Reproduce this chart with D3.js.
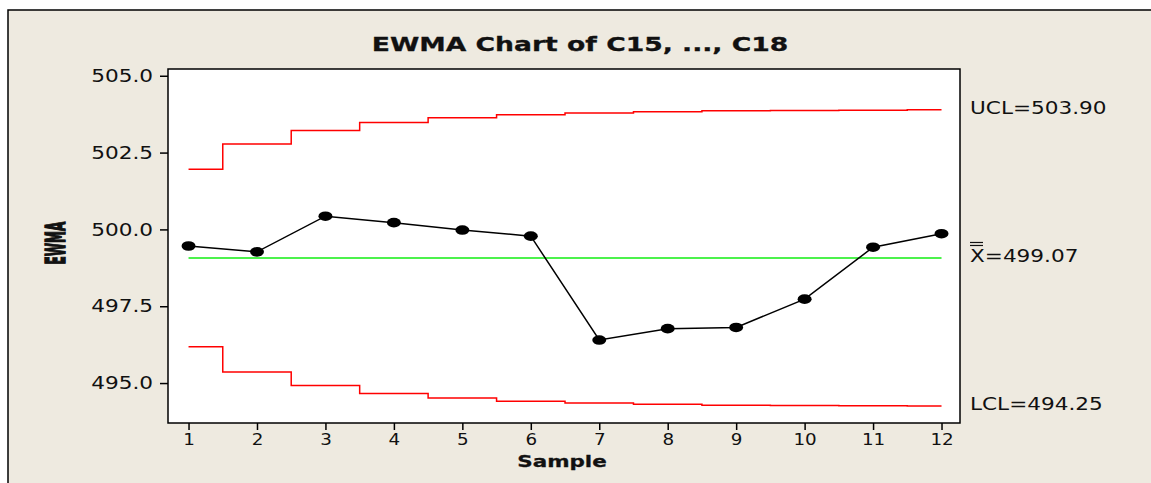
<!DOCTYPE html>
<meta charset="utf-8">
<script src="https://d3js.org/d3.v7.min.js"></script>
<style>
body { margin: 0; background: #fff; }
text { font-family: "DejaVu Sans", Verdana, sans-serif; fill: #111; }
</style>
<svg id="chart" width="1151" height="483"></svg>
<script>
// values
const samples = [1, 2, 3, 4, 5, 6, 7, 8, 9, 10, 11, 12]
const ewma = [499.46, 499.27, 500.43, 500.22, 499.98, 499.78, 496.40, 496.77, 496.81, 497.73, 499.42, 499.86]
const ucl = [501.96, 502.78, 503.22, 503.48, 503.63, 503.73, 503.79, 503.83, 503.86, 503.87, 503.88, 503.89]
const lcl = [496.18, 495.36, 494.92, 494.66, 494.51, 494.41, 494.35, 494.31, 494.28, 494.27, 494.26, 494.25]
const center = 499.07
const yTicks = [495, 497.5, 500, 502.5, 505]
const limitLabels = ["UCL=503.90", "X=499.07", "LCL=494.25"]

const svg = d3.select("#chart")
const pLeft = 168, pRight = 960, pTop = 69, pBottom = 423

// the original picture is widened a little, so text gets stretched to match
function stretch(sel, k) {
  sel.each(function() {
    const w = this.getComputedTextLength()
    d3.select(this).attr("textLength", w * k).attr("lengthAdjust", "spacingAndGlyphs")
  })
}

// beige panel
svg.append("rect")
  .attr("x", 8).attr("y", 10)
  .attr("width", 1160).attr("height", 490)
  .attr("fill", "#eeeae0")
  .attr("stroke", "#000").attr("stroke-width", 1.5)

const x = d3.scaleLinear().domain([0.7, 12.27]).range([pLeft, pRight])
const y = d3.scaleLinear().domain([493.70, 505.22]).range([pBottom, pTop])

svg.append("rect")
  .attr("x", pLeft).attr("y", pTop)
  .attr("width", pRight - pLeft).attr("height", pBottom - pTop)
  .attr("fill", "#fff")
  .attr("stroke", "#000").attr("stroke-width", 1.5)

// axes
const yAxis = svg.append("g")
  .attr("transform", `translate(${pLeft},0)`)
  .call(d3.axisLeft(y).tickValues(yTicks).tickFormat(d3.format(".1f")).tickSize(8).tickSizeOuter(0).tickPadding(7))
yAxis.select(".domain").remove()
yAxis.selectAll("line").attr("stroke", "#000").attr("stroke-width", 1.5)
yAxis.selectAll("text").attr("font-size", 18).attr("fill", "#111")
stretch(yAxis.selectAll("text"), 1.2)

const xAxis = svg.append("g")
  .attr("transform", `translate(0,${pBottom})`)
  .call(d3.axisBottom(x).tickValues(samples).tickFormat(d3.format("d")).tickSize(7).tickSizeOuter(0).tickPadding(4))
xAxis.select(".domain").remove()
xAxis.selectAll("line").attr("stroke", "#000").attr("stroke-width", 1.5)
xAxis.selectAll("text").attr("font-size", 15).attr("fill", "#111")
stretch(xAxis.selectAll("text"), 1.22)

// control limits
const stepLine = d3.line().x((d, i) => x(samples[i])).y(d => y(d)).curve(d3.curveStep)
svg.append("path").attr("d", stepLine(ucl))
  .attr("fill", "none").attr("stroke", "#ff0000").attr("stroke-width", 1.5)
svg.append("path").attr("d", stepLine(lcl))
  .attr("fill", "none").attr("stroke", "#ff0000").attr("stroke-width", 1.5)

svg.append("line")
  .attr("x1", x(samples[0])).attr("x2", x(samples[samples.length - 1]))
  .attr("y1", y(center)).attr("y2", y(center))
  .attr("stroke", "#11ee11").attr("stroke-width", 1.5)

// ewma series
const line = d3.line().x((d, i) => x(samples[i])).y(d => y(d))
svg.append("path").attr("d", line(ewma))
  .attr("fill", "none").attr("stroke", "#000").attr("stroke-width", 1.5)

svg.selectAll("ellipse.pt")
  .data(ewma)
  .join("ellipse")
    .attr("class", "pt")
    .attr("cx", (d, i) => x(samples[i]))
    .attr("cy", d => y(d))
    .attr("rx", 7).attr("ry", 4.8)
    .attr("fill", "#000")

// labels on the right
const labY = [y(ucl[ucl.length - 1]) + 4, y(center) + 4, y(lcl[lcl.length - 1]) + 4]
const labs = svg.selectAll("text.lim")
  .data(limitLabels)
  .join("text")
    .attr("class", "lim")
    .attr("x", 970)
    .attr("y", (d, i) => labY[i])
    .attr("font-size", 17)
    .text(d => d)
stretch(labs, 1.27)

// double bar over the X
;[0, 3].forEach(o => {
  svg.append("line")
    .attr("x1", 970).attr("x2", 983)
    .attr("y1", y(center) - 15.5 + o).attr("y2", y(center) - 15.5 + o)
    .attr("stroke", "#111").attr("stroke-width", 1.2)
})

// titles
const title = svg.append("text")
  .attr("x", 580).attr("y", 51)
  .attr("text-anchor", "middle")
  .attr("font-size", 20).attr("font-weight", "bold")
  .attr("stroke", "#111").attr("stroke-width", 0.3)
  .text("EWMA Chart of C15, ..., C18")
stretch(title, 1.33)

const xTitle = svg.append("text")
  .attr("x", 562).attr("y", 467)
  .attr("text-anchor", "middle")
  .attr("font-size", 16.5).attr("font-weight", "bold")
  .attr("stroke", "#111").attr("stroke-width", 0.3)
  .text("Sample")
stretch(xTitle, 1.3)

svg.append("text")
  .attr("transform", "translate(65,243) rotate(-90) scale(0.86,1.85)")
  .attr("text-anchor", "middle")
  .attr("font-size", 14).attr("font-weight", "bold")
  .attr("stroke", "#111").attr("stroke-width", 0.8)
  .text("EWMA")
</script>
